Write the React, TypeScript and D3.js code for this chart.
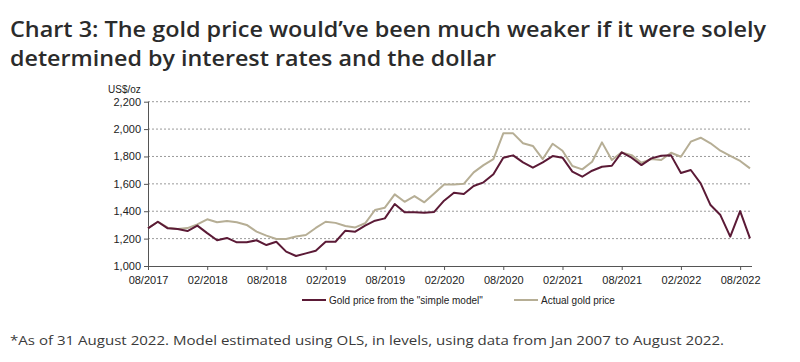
import * as d3 from "d3";
import React, { useRef, useEffect } from "react";

// month-end values, Jul 2017 .. Aug 2022
const modelPrice = [
  1275, 1323, 1275, 1270, 1255, 1295, 1240, 1188, 1205, 1173,
  1173, 1188, 1153, 1177, 1105, 1073, 1092, 1112, 1177, 1177,
  1258, 1251, 1295, 1331, 1348, 1453, 1392, 1392, 1389, 1395,
  1477, 1535, 1526, 1584, 1611, 1670, 1791, 1808, 1757, 1718,
  1757, 1803, 1791, 1689, 1652, 1696, 1725, 1732, 1830, 1791,
  1737, 1786, 1805, 1808, 1679, 1701, 1604, 1445, 1372, 1214,
  1401, 1202,
];

const actualPrice = [
  1277, 1323, 1280, 1270, 1277, 1304, 1341, 1319, 1329, 1319,
  1300, 1251, 1222, 1197, 1197, 1216, 1226, 1278, 1323, 1315,
  1292, 1282, 1312, 1409, 1426, 1523, 1469, 1511, 1465, 1530,
  1596, 1596, 1600, 1684, 1737, 1781, 1969, 1969, 1896, 1877,
  1781, 1893, 1842, 1730, 1706, 1762, 1903, 1774, 1830, 1810,
  1754, 1781, 1774, 1827, 1798, 1908, 1937, 1896, 1842, 1805,
  1767, 1713,
];

const tickLabels = [
  "08/2017", "02/2018", "08/2018", "02/2019", "08/2019", "02/2020",
  "08/2020", "02/2021", "08/2021", "02/2022", "08/2022",
];

const yTicks = [1000, 1200, 1400, 1600, 1800, 2000, 2200];

const seriesNames = ["Gold price from the \"simple model\"", "Actual gold price"];
const seriesColors = ["#5b1a36", "#b6ae95"];

const App = () => {
  const ref = useRef(null);

  useEffect(() => {
    document.body.style.margin = "0";
    const svg = d3.select(ref.current);
    svg.selectAll("*").remove();

    const x = d3.scaleLinear().domain([0, modelPrice.length - 1]).range([148, 750]);
    const y = d3.scaleLinear().domain([1000, 2200]).range([266, 101.7]);

    // title
    const title = svg.append("g")
      .attr("font-family", "'Open Sans', sans-serif")
      .attr("font-weight", 600)
      .attr("font-size", 21)
      .attr("fill", "#2b2b2b");
    title.append("text").attr("x", 10).attr("y", 37)
      .attr("textLength", 756).attr("lengthAdjust", "spacingAndGlyphs")
      .text("Chart 3: The gold price would\u2019ve been much weaker if it were solely");
    title.append("text").attr("x", 10).attr("y", 66)
      .attr("textLength", 486).attr("lengthAdjust", "spacingAndGlyphs")
      .text("determined by interest rates and the dollar");

    // grid
    svg.append("g")
      .selectAll("line")
      .data(yTicks.slice(1))
      .enter()
      .append("line")
      .attr("x1", 148).attr("x2", 752)
      .attr("y1", (d) => y(d)).attr("y2", (d) => y(d))
      .attr("stroke", "#9a9a9a")
      .attr("stroke-width", 1)
      .attr("stroke-dasharray", "2,2");

    // axes
    const axisLeft = svg.append("g").attr("transform", "translate(148,0)");
    axisLeft.call(d3.axisLeft(y).tickValues(yTicks).tickSize(4).tickPadding(3).tickFormat(d3.format(",")));
    const axisBottom = svg.append("g").attr("transform", "translate(0,266)");
    axisBottom.call(
      d3.axisBottom(x)
        .tickValues(tickLabels.map((_, i) => i * 6))
        .tickSize(4)
        .tickPadding(6)
        .tickFormat((d, i) => tickLabels[i])
    );
    [axisLeft, axisBottom].forEach((g) => {
      g.select(".domain").attr("stroke", "#555");
      g.selectAll(".tick line").attr("stroke", "#555");
      g.selectAll("text")
        .attr("font-family", "'Liberation Sans', Arial, sans-serif")
        .attr("font-size", 11)
        .attr("fill", "#222");
    });
    axisBottom.select(".domain").attr("d", "M148,0.5H752");
    axisLeft.select(".domain").attr("d", "M0.5,266V101.7");

    svg.append("text")
      .attr("x", 108).attr("y", 93)
      .attr("font-family", "'Liberation Sans', Arial, sans-serif")
      .attr("font-size", 10)
      .attr("fill", "#222")
      .text("US$/oz");

    // lines
    const line = d3.line().x((d, i) => x(i)).y((d) => y(d));
    [actualPrice, modelPrice].forEach((s, k) => {
      svg.append("path")
        .datum(s)
        .attr("d", line)
        .attr("fill", "none")
        .attr("stroke", seriesColors[1 - k])
        .attr("stroke-width", 2)
        .attr("stroke-linejoin", "round");
    });

    // legend
    const legendX = [302, 514];
    const legend = svg.append("g")
      .selectAll("g")
      .data(seriesNames)
      .enter()
      .append("g")
      .attr("transform", (d, i) => `translate(${legendX[i]},300)`);
    legend.append("line")
      .attr("x1", 0).attr("x2", 24)
      .attr("stroke", (d, i) => seriesColors[i])
      .attr("stroke-width", 2);
    legend.append("text")
      .attr("x", 27).attr("y", 3.5)
      .attr("font-family", "'Liberation Sans', Arial, sans-serif")
      .attr("font-size", 10)
      .attr("fill", "#222")
      .text((d) => d);

    // footnote
    svg.append("text")
      .attr("x", 10).attr("y", 345)
      .attr("font-family", "'Open Sans', sans-serif")
      .attr("font-size", 13)
      .attr("fill", "#3a3a3a")
      .attr("textLength", 714).attr("lengthAdjust", "spacingAndGlyphs")
      .text("*As of 31 August 2022. Model estimated using OLS, in levels, using data from Jan 2007 to August 2022.");
  }, []);

  return (
    <svg ref={ref} width={800} height={362} style={{ display: "block", background: "#fff" }} />
  );
};

export default App;
